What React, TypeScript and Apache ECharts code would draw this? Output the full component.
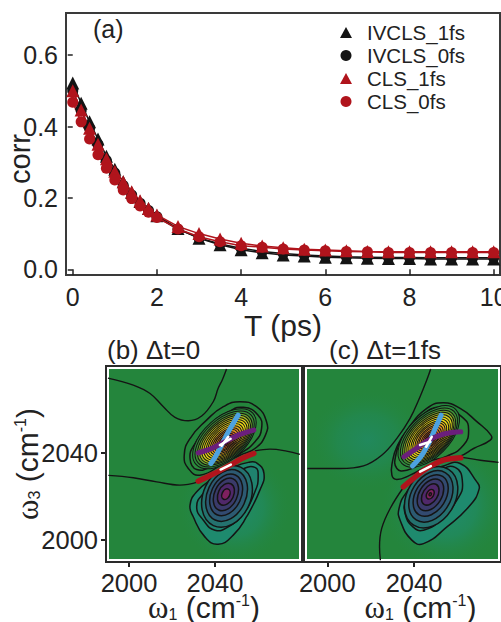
import React, { useEffect, useRef } from "react";
import * as echarts from "echarts";

// ---------- panel (a) ----------
const times = [0, 0.2, 0.4, 0.6, 0.8, 1, 1.2, 1.4, 1.6, 1.8, 2, 2.5, 3, 3.5, 4, 4.5, 5, 5.5, 6, 6.5, 7, 7.5, 8, 8.5, 9, 9.5, 10];
const ivcls1 = [0.522, 0.465, 0.413, 0.365, 0.317, 0.28, 0.245, 0.215, 0.19, 0.17, 0.15, 0.114, 0.087, 0.069, 0.055, 0.046, 0.04, 0.037, 0.034, 0.032, 0.031, 0.03, 0.03, 0.029, 0.029, 0.029, 0.029];
const ivcls0 = [0.5, 0.445, 0.395, 0.35, 0.305, 0.27, 0.235, 0.208, 0.185, 0.165, 0.147, 0.112, 0.088, 0.071, 0.059, 0.05, 0.044, 0.04, 0.037, 0.035, 0.034, 0.033, 0.033, 0.032, 0.032, 0.032, 0.032];
const cls1 = [0.5, 0.446, 0.395, 0.35, 0.31, 0.275, 0.245, 0.217, 0.192, 0.17, 0.152, 0.12, 0.1, 0.085, 0.073, 0.065, 0.06, 0.056, 0.054, 0.052, 0.05, 0.049, 0.049, 0.049, 0.049, 0.049, 0.049];
const cls0 = [0.468, 0.413, 0.365, 0.321, 0.283, 0.25, 0.222, 0.198, 0.177, 0.16, 0.145, 0.113, 0.091, 0.077, 0.066, 0.062, 0.057, 0.054, 0.052, 0.05, 0.049, 0.047, 0.047, 0.047, 0.047, 0.047, 0.047];
const legendNames = ["IVCLS_1fs", "IVCLS_0fs", "CLS_1fs", "CLS_0fs"];
const xTicksA = [0, 2, 4, 6, 8, 10];
const yTicksA = [0, 0.2, 0.4, 0.6];
const ticks2D = [2000, 2040];

// ---------- contour lines, panel (b) ----------
const bLineA = [[1990.2, 2074.6], [2002, 2071.4], [2009.8, 2067.5], [2016, 2061.4], [2021.4, 2056.5], [2027.6, 2054.9], [2033.8, 2057.1], [2039.2, 2063.7], [2041.5, 2069.9], [2043.5, 2074], [2045.4, 2078.8]];
const bLineB = [[1990.4, 2029.7], [2002, 2028.6], [2012.9, 2026.7], [2023.7, 2025.2], [2032.2, 2026.7]];
const bLineC = [[2058.6, 2041], [2065.6, 2041.8], [2073.3, 2040.9], [2079.5, 2039.4]];
const bPosOuter1 = [[2051.6, 2063.7], [2059.35, 2061.4], [2064, 2054.5], [2063.5, 2048.3], [2058.6, 2042.1], [2051.6, 2039], [2044.6, 2035.5], [2033, 2029.8], [2027.6, 2032.9], [2025.7, 2039], [2028.4, 2046.7], [2036.1, 2055.2], [2043.9, 2061.4]];
const bPosOuter2 = [[2053.2, 2061.1], [2060.1, 2057.5], [2061.7, 2051.4], [2058.6, 2045.2], [2051.6, 2039.8], [2039.2, 2034], [2031.5, 2032.4], [2028.4, 2037.5], [2030.7, 2044.4], [2038.4, 2053.7], [2046.2, 2059]];
const bNegOuter1 = [[2059.35, 2035.5], [2062.8, 2030.6], [2060.9, 2022.9], [2054.7, 2010.6], [2048.5, 2002.1], [2041.5, 1997.9], [2035.3, 2001.3], [2029.9, 2010.6], [2028.4, 2016], [2031.5, 2022.1], [2039.2, 2028.3], [2048.5, 2033.4], [2055.5, 2035.7]];
const bNegOuter2 = [[2058.6, 2033.4], [2060.1, 2029], [2058.6, 2022.1], [2053.2, 2012.1], [2046.2, 2005.9], [2040, 2004.4], [2034.6, 2009], [2031.5, 2015.2], [2034.6, 2021.3], [2042.3, 2027.5], [2051.6, 2032.1]];
// centre ω1, centre ω3, half length, half width, tilt (deg), shade
const bPosRings = [
  [2044.4, 2046.6, 17.8, 9.8, 42, 0], [2044.5, 2046.5, 16.6, 9.1, 42, 1], [2044.6, 2046.4, 15.4, 8.4, 42, 2], [2044.7, 2046.3, 14.3, 7.8, 42, 3],
  [2044.8, 2046.2, 13.2, 7.2, 42, 4], [2044.9, 2046.1, 12.1, 6.6, 42, 5], [2045, 2046, 11, 6, 42, 5], [2045, 2045.9, 9.9, 5.4, 42, 6],
  [2045.1, 2045.8, 8.8, 4.8, 42, 7], [2045.1, 2045.7, 7.7, 4.2, 42, 8], [2045.2, 2045.7, 6.6, 3.6, 42, 8], [2045.2, 2045.6, 5.5, 3, 42, 9],
  [2045.3, 2045.6, 4.4, 2.4, 42, 10], [2045.3, 2045.6, 3.3, 1.8, 42, 11], [2045.4, 2045.6, 2.2, 1.2, 42, 12], [2045.4, 2045.6, 1.2, 0.7, 42, 12],
];
const bNegRings = [
  [2045.6, 2020, 15, 11, 65, 2], [2045.4, 2020.4, 12.6, 9, 65, 3], [2045.2, 2020.7, 10.2, 7, 65, 4], [2045.1, 2020.9, 8, 5.3, 65, 5],
  [2045.1, 2021, 5.4, 3.6, 65, 6], [2045.1, 2021, 2.6, 1.8, 65, 7],
];
const bBlue = [[2038.1, 2035.2], [2040, 2038], [2043.1, 2043.7], [2046.2, 2049.8], [2048.5, 2053.7], [2050.8, 2057.5]];
const bPurple = [[2032.2, 2040.1], [2037.7, 2041.8], [2044.6, 2045.2], [2051.6, 2048.6], [2058.1, 2050.6]];
const bRed = [[2032.2, 2027], [2039.2, 2030.3], [2047, 2034.4], [2053.2, 2037.8], [2058.1, 2039.8]];
const bWhite = [[[2042.6, 2032.4], [2047.4, 2034.7]], [[2042.3, 2043.7], [2047.3, 2046.6]], [[2043.1, 2043.4], [2046.2, 2047.5]]];
// centre ω1, centre ω3, reach ω1, reach ω3, strength
const bGlows = [[2049, 2015, 27, 27, 0.85]];

// ---------- contour lines, panel (c) ----------
const cLineA = [[1990.8, 2032.9], [2005.9, 2032.9], [2016.7, 2034.1], [2025.1, 2039], [2032.1, 2046.8], [2038.2, 2056], [2042.8, 2066], [2045.9, 2073.7], [2047.7, 2078.8]];
const cLineB = [[2035.1, 2024.1], [2029, 2014.4], [2025.1, 2005.2], [2024.1, 1996.7], [2024.5, 1990.5]];
const cLineC = [[2062.1, 2038], [2070.6, 2036.7], [2079, 2035.7]];
const cPosOuter1 = [[2053.6, 2063.2], [2061.3, 2060.6], [2069, 2054.5], [2075.5, 2048.3], [2075.2, 2046], [2067.5, 2042.1], [2061.3, 2038.6], [2049, 2035.2], [2038.2, 2029.8], [2032.1, 2027.8], [2029.8, 2029.8], [2030.2, 2036.7], [2032.1, 2042.9], [2036.7, 2050.6], [2045.9, 2060.6]];
const cPosOuter2 = [[2052.9, 2061.1], [2062.9, 2056], [2065.2, 2050.6], [2062.9, 2043.7], [2055.2, 2038.6], [2045.9, 2036], [2036.7, 2032.1], [2032.1, 2032.9], [2031.6, 2039], [2035.1, 2047.5], [2042.8, 2056.8]];
const cNegOuter1 = [[2061.3, 2035.2], [2069, 2026.7], [2070.1, 2023.6], [2066, 2016], [2055.2, 2005.9], [2044.4, 1998.2], [2039, 1999.8], [2033.6, 2009], [2033.1, 2014.4], [2036.7, 2022.1], [2044.4, 2029.8], [2053.6, 2034]];
const cNegOuter2 = [[2059, 2033.4], [2062.4, 2026], [2059.8, 2018.3], [2052.1, 2009], [2044.4, 2004.4], [2039.5, 2005.9], [2035.9, 2012.1], [2036.4, 2018.3], [2041.3, 2025.7], [2050.5, 2031.3]];
const cPosRings = [
  [2046.8, 2047.7, 17.6, 9.6, 45, 0], [2046.9, 2047.6, 16.4, 8.9, 45, 1], [2047, 2047.5, 15.2, 8.3, 45, 2], [2047.1, 2047.4, 14.1, 7.7, 45, 3],
  [2047.2, 2047.3, 13, 7.1, 45, 4], [2047.2, 2047.2, 11.9, 6.5, 45, 5], [2047.3, 2047.1, 10.8, 5.9, 45, 5], [2047.3, 2047, 9.7, 5.3, 45, 6],
  [2047.4, 2047, 8.6, 4.7, 45, 7], [2047.4, 2046.9, 7.5, 4.1, 45, 8], [2047.4, 2046.9, 6.4, 3.5, 45, 8], [2047.5, 2046.8, 5.3, 2.9, 45, 9],
  [2047.5, 2046.8, 4.2, 2.3, 45, 10], [2047.5, 2046.7, 3.1, 1.7, 45, 11], [2047.5, 2046.7, 2, 1.1, 45, 12], [2047.5, 2046.7, 1.1, 0.6, 45, 12],
];
const cNegRings = [
  [2047.9, 2019.6, 15.2, 11, 58, 2], [2047.8, 2020, 12.8, 9, 58, 3], [2047.7, 2020.4, 10.4, 7, 58, 4], [2047.6, 2020.7, 8, 5.2, 58, 5],
  [2047.5, 2020.9, 5.4, 3.4, 58, 6], [2047.5, 2021, 2.4, 1.6, 58, 7], [2047.5, 2021, 0.7, 0.5, 58, 7],
];
const cBlue = [[2039.3, 2034], [2043.6, 2039], [2047.5, 2046], [2049.8, 2051.4], [2052.5, 2057.5]];
const cPurple = [[2035.4, 2038.3], [2040.5, 2041.7], [2046.7, 2046], [2052.1, 2048.3], [2056.7, 2049.4], [2061.6, 2049.8]];
const cRed = [[2035.1, 2024.4], [2039.8, 2028.3], [2045.9, 2032.9], [2053.6, 2036.7], [2061.6, 2037.8]];
const cWhite = [[[2042.8, 2031.4], [2047.8, 2034]], [[2042.8, 2043.7], [2047.5, 2045.2]], [[2045.6, 2042.9], [2048.2, 2047.5]]];
const cGlows = [[2054, 2016, 30, 30, 0.95], [2018.5, 2046, 28, 24, 0.55]];

// ---------- colours ----------
const BLACK = "#141414";
const RED = "#b0141c";
const INK = "#222222";
const FIELD = "#24853c";
const posShades = ["#2b8a3c", "#3d8f35", "#6da32c", "#a5b822", "#d8d21a", "#ecd915", "#e9c51a", "#e5ab1f", "#e08f24", "#d96f28", "#cf5029", "#b5352f", "#8e2a48"];
const negShades = ["#1e8a6e", "#1f826e", "#24726f", "#2c5a72", "#324a70", "#3a3a6a", "#50286a", "#80205f"];
const FONT = "Liberation Sans";
const SERIF = "Liberation Serif";

const panelBack = (grid: number) => ({
  type: "custom", xAxisIndex: grid, yAxisIndex: grid, silent: true, clip: true, data: [[0]], encode: { x: 0, y: 0 },
  renderItem: (p: any) => {
    const r = p.coordSys;
    return { type: "rect", shape: { x: r.x, y: r.y, width: r.width, height: r.height }, style: { fill: FIELD } };
  },
});
const panelGlow = (grid: number, rows: number[][]) => ({
  type: "custom", xAxisIndex: grid, yAxisIndex: grid, silent: true, clip: true, data: rows,
  encode: { x: 0, y: 1 },
  renderItem: (_: any, api: any) => {
    const c = api.coord([api.value(0), api.value(1)]);
    const e = api.coord([api.value(0) + api.value(2), api.value(1) + api.value(3)]);
    const a = api.value(4);
    return {
      type: "ellipse", shape: { cx: c[0], cy: c[1], rx: e[0] - c[0], ry: c[1] - e[1] },
      style: {
        fill: {
          type: "radial", x: 0.5, y: 0.5, r: 0.5,
          colorStops: [{ offset: 0, color: `rgba(31,140,120,${a})` }, { offset: 0.5, color: `rgba(31,140,110,${a * 0.6})` }, { offset: 1, color: "rgba(36,133,60,0)" }],
        },
      },
    };
  },
});
const outerRings = (grid: number, rings: number[][][], fills: string[]) => ({
  type: "custom", xAxisIndex: grid, yAxisIndex: grid, silent: true, clip: true,
  data: rings.map((r, i) => [r[0][0], r[0][1], i]), encode: { x: 0, y: 1 },
  renderItem: (_: any, api: any) => {
    const i = api.value(2);
    return {
      type: "polygon", shape: { points: rings[i].map((q) => api.coord(q)), smooth: 0.5 },
      style: { fill: fills[i], stroke: BLACK, lineWidth: 1.5 },
    };
  },
});
const ellipseRings = (grid: number, rows: number[][], shades: string[], width: number) => ({
  type: "custom", xAxisIndex: grid, yAxisIndex: grid, silent: true, clip: true, data: rows, encode: { x: 0, y: 1 },
  renderItem: (_: any, api: any) => {
    const c = api.coord([api.value(0), api.value(1)]);
    const k = api.coord([api.value(0) + 1, api.value(1)])[0] - c[0];
    return {
      type: "ellipse", x: c[0], y: c[1], rotation: (api.value(4) * Math.PI) / 180,
      shape: { cx: 0, cy: 0, rx: api.value(2) * k, ry: api.value(3) * k },
      style: { fill: shades[api.value(5)], stroke: BLACK, lineWidth: width },
    };
  },
});
const contour = (grid: number, data: number[][]) => ({
  type: "line", xAxisIndex: grid, yAxisIndex: grid, data, smooth: 0.4, symbol: "none", silent: true, lineStyle: { color: BLACK, width: 1.4 },
});
const thick = (grid: number, data: number[][], color: string, width: number) => ({
  type: "line", xAxisIndex: grid, yAxisIndex: grid, data, smooth: 0.3, symbol: "none", silent: true,
  lineStyle: { color, width, cap: "round" },
});
const frame = (grid: number) => ({
  type: "custom", xAxisIndex: grid, yAxisIndex: grid, silent: true, clip: false, data: [[0]], encode: { x: 0, y: 0 },
  renderItem: (p: any) => {
    const r = p.coordSys;
    return {
      type: "group",
      children: [
        { type: "rect", shape: { x: r.x + 2, y: r.y + 2, width: r.width - 4, height: r.height - 4 }, style: { fill: "none", stroke: "#ffffff", lineWidth: 2 } },
        { type: "rect", shape: { x: r.x, y: r.y, width: r.width, height: r.height }, style: { fill: "none", stroke: "#2a2a2a", lineWidth: 2 } },
      ],
    };
  },
});
const panelSeries = (grid: number, d: any) => [
  panelBack(grid),
  panelGlow(grid, d.glows),
  outerRings(grid, [d.negOuter1, d.negOuter2], [negShades[0], negShades[1]]),
  ellipseRings(grid, d.negRings, negShades, 1.5),
  outerRings(grid, [d.posOuter1, d.posOuter2], ["transparent", posShades[0]]),
  ellipseRings(grid, d.posRings, posShades, 1),
  contour(grid, d.lineA), contour(grid, d.lineB), contour(grid, d.lineC),
  thick(grid, d.blue, "#4da2e0", 5), thick(grid, d.purple, "#6b1f7c", 5), thick(grid, d.red, RED, 5.5),
  ...d.white.map((w: number[][]) => thick(grid, w, "#ffffff", 2.5)),
  frame(grid),
];

const measure = (name: string, data: number[], color: string, symbol: string, size: number | number[]) => ({
  name, type: "line", xAxisIndex: 0, yAxisIndex: 0, data: times.map((t, i) => [t, data[i]]), symbol, symbolSize: size, showAllSymbol: true,
  clip: false, itemStyle: { color }, lineStyle: { color, width: 1.5 },
});

const rich = {
  w: { fontFamily: SERIF, fontSize: 31, color: INK, lineHeight: 30 },
  s: { fontFamily: FONT, fontSize: 16, color: INK, verticalAlign: "bottom", lineHeight: 16 },
  u: { fontFamily: FONT, fontSize: 16, color: INK, verticalAlign: "top", lineHeight: 18 },
  t: { fontFamily: FONT, fontSize: 30, color: INK, lineHeight: 30 },
};
const axis2D = (grid: number, dim: "x" | "y", min: number, max: number, name: string, extra: any = {}) => ({
  type: "value", gridIndex: grid, min, max, name, nameLocation: "middle", nameMoveOverlap: false,
  nameTextStyle: { rich, fontFamily: FONT, fontSize: 30, color: INK, ...(extra.nameStyle || {}) },
  nameGap: extra.gap, nameRotate: dim === "y" ? 90 : 0,
  axisLine: { show: false }, splitLine: { show: false },
  axisTick: { show: extra.ticks !== false, length: 5, lineStyle: { color: INK, width: 2 }, customValues: ticks2D },
  axisLabel: { show: extra.ticks !== false, fontFamily: FONT, fontSize: 25.5, color: INK, margin: 8, customValues: ticks2D, formatter: (v: number) => String(v) },
});

export default function App() {
  const ref = useRef<HTMLDivElement>(null);
  useEffect(() => {
    document.body.style.margin = "0";
    const chart = echarts.init(ref.current!, undefined, { renderer: "svg" });
    chart.setOption({
      animation: false,
      backgroundColor: "#ffffff",
      textStyle: { fontFamily: FONT },
      title: [
        { text: "(a)", left: 93, top: 16, padding: 0, textStyle: { fontFamily: FONT, fontSize: 25, fontWeight: "normal", color: INK } },
        { text: "(b) Δt=0", left: 107, top: 337, padding: 0, textStyle: { fontFamily: FONT, fontSize: 26, fontWeight: "normal", color: INK } },
        { text: "(c) Δt=1fs", left: 329, top: 337, padding: 0, textStyle: { fontFamily: FONT, fontSize: 26, fontWeight: "normal", color: INK } },
      ],
      legend: {
        left: 340, top: 22, orient: "vertical", itemWidth: 12, itemHeight: 11, itemGap: 2, padding: 0, selectedMode: false,
        textStyle: { fontFamily: FONT, fontSize: 20.5, color: INK, padding: [0, 0, 0, 10] },
        data: [
          { name: legendNames[0], icon: "triangle" },
          { name: legendNames[1], icon: "circle" },
          { name: legendNames[2], icon: "triangle" },
          { name: legendNames[3], icon: "circle" },
        ],
      },
      grid: [
        { left: 66, top: 13, width: 434, height: 262, show: true, borderColor: "#3a3a3a", borderWidth: 2, backgroundColor: "#ffffff", outerBoundsMode: "none" },
        { left: 106, top: 366, width: 196, height: 196, outerBoundsMode: "none" },
        { left: 304, top: 366, width: 197, height: 196, outerBoundsMode: "none" },
      ],
      xAxis: [
        {
          type: "value", gridIndex: 0, min: -0.16, max: 10.15, name: "T (ps)", nameLocation: "middle", nameGap: 35, nameMoveOverlap: false,
          nameTextStyle: { fontFamily: FONT, fontSize: 30, color: INK },
          axisLine: { show: false }, splitLine: { show: false },
          axisTick: { length: 6, lineStyle: { color: INK, width: 1.5 }, customValues: xTicksA },
          axisLabel: { fontFamily: FONT, fontSize: 25, color: INK, margin: 9, customValues: xTicksA, formatter: (v: number) => String(v) },
        },
        axis2D(1, "x", 1989.3, 2080.5, "{w|ω}{s|1}{t| (cm}{u|-1}{t|)}", { gap: 30 }),
        axis2D(2, "x", 1989.25, 2080.15, "{w|ω}{s|1}{t| (cm}{u|-1}{t|)}", { gap: 30, nameStyle: { padding: [0, 0, 0, 36] } }),
      ],
      yAxis: [
        {
          type: "value", gridIndex: 0, min: -0.016, max: 0.718, name: "corr", nameLocation: "middle", nameRotate: 90, nameGap: 32, nameMoveOverlap: false,
          nameTextStyle: { fontFamily: FONT, fontSize: 29, color: INK, padding: [0, 30, 0, 0] },
          axisLine: { show: false }, splitLine: { show: false },
          axisTick: { length: 5, lineStyle: { color: INK, width: 1.5 }, customValues: yTicksA },
          axisLabel: { fontFamily: FONT, fontSize: 25, color: INK, margin: 8, customValues: yTicksA, formatter: (v: number) => v.toFixed(1) },
        },
        axis2D(1, "y", 1989.7, 2080.2, "{w|ω}{s|3}{t| (cm}{u|-1}{t|)}", { gap: 64 }),
        axis2D(2, "y", 1989.7, 2080.2, "", { ticks: false, gap: 0 }),
      ],
      series: [
        measure(legendNames[0], ivcls1, BLACK, "triangle", [13, 13]),
        measure(legendNames[1], ivcls0, BLACK, "circle", 11),
        measure(legendNames[2], cls1, RED, "triangle", [13, 13]),
        measure(legendNames[3], cls0, RED, "circle", 11),
        ...panelSeries(1, {
          glows: bGlows, negOuter1: bNegOuter1, negOuter2: bNegOuter2, negRings: bNegRings, posOuter1: bPosOuter1, posOuter2: bPosOuter2, posRings: bPosRings,
          lineA: bLineA, lineB: bLineB, lineC: bLineC, blue: bBlue, purple: bPurple, red: bRed, white: bWhite,
        }),
        ...panelSeries(2, {
          glows: cGlows, negOuter1: cNegOuter1, negOuter2: cNegOuter2, negRings: cNegRings, posOuter1: cPosOuter1, posOuter2: cPosOuter2, posRings: cPosRings,
          lineA: cLineA, lineB: cLineB, lineC: cLineC, blue: cBlue, purple: cPurple, red: cRed, white: cWhite,
        }),
      ],
    });
    return () => chart.dispose();
  }, []);
  return <div ref={ref} style={{ position: "absolute", left: 0, top: 0, width: 501, height: 622 }} />;
}
